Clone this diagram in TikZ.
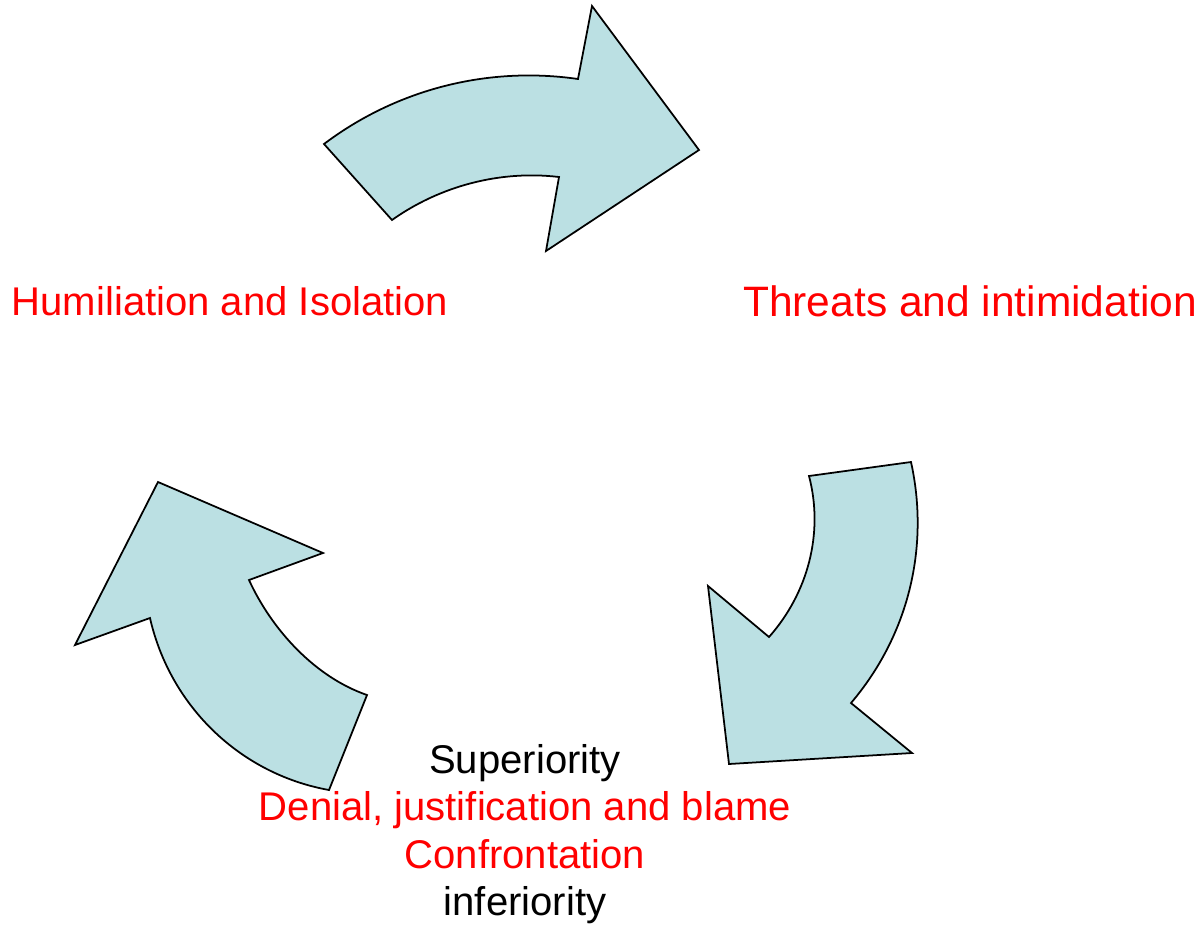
\documentclass[tikz,border=0pt]{standalone}
\usepackage{fontspec}
\setmainfont{Liberation Sans}
\definecolor{arrowfill}{RGB}{187,224,227}

\begin{document}
\begin{tikzpicture}[x=0.02cm, y=-0.02cm,
    cyclearrow/.style={fill=arrowfill, draw=black, line width=1pt, line join=miter},
    label/.style={inner sep=0pt, anchor=base, font=\fontsize{22.8}{27}\selectfont}]
        \useasboundingbox (0,0) rectangle (1204,924);

        % top arrow
        \draw[cyclearrow] (324,144) .. controls (397,89) and (488,66) .. (578,79)
            -- (592,6) -- (699,150) -- (546,251) -- (559,177)
            .. controls (500,170) and (440,186) .. (392,220) -- cycle;
        % right arrow
        \draw[cyclearrow] (911,462) .. controls (930,548) and (908,636) .. (851,703)
            -- (912,753) -- (729,764) -- (708,586) -- (769,637)
            .. controls (808,593) and (824,533) .. (809,476) -- cycle;
        % left arrow
        \draw[cyclearrow] (329,790) .. controls (240,774) and (170,706) .. (150,618)
            -- (75,645) -- (158,482) -- (323,553) -- (249,580)
            .. controls (272,630) and (315,677) .. (367,695) -- cycle;

        \node[label, text=red] at (230,315) (humiliation) {Humiliation and Isolation};
        \node[label, text=red, font=\fontsize{24.2}{28}\selectfont] at (970,316) (threats) {Threats and intimidation};

        \node[label] at (525,773) (superiority) {Superiority};
        \node[label, text=red] at (525,820) (denial) {Denial, justification and blame};
        \node[label, text=red] at (525,868) (confront) {Confrontation};
        \node[label] at (525,915) (inferiority) {inferiority};

    \end{tikzpicture}
\end{document}
